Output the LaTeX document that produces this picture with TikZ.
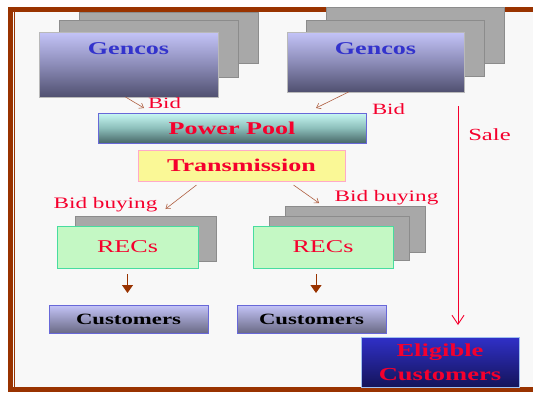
\documentclass[tikz,border=0pt]{standalone}
\usepackage{fontspec}
\setmainfont{Liberation Serif}
\usepackage{graphicx}
\usetikzlibrary{%
	calc,%
	arrows.meta,%
	positioning,%
}
\definecolor{cframe}{RGB}{153, 51, 0}
\definecolor{cback}{RGB}{248, 248, 248}
\definecolor{cred}{RGB}{245, 0, 45}
\definecolor{cblue}{RGB}{51, 51, 204}
\definecolor{cgray}{RGB}{168, 168, 168}
\definecolor{cgraydark}{RGB}{140, 140, 140}
\definecolor{clavender}{RGB}{196, 196, 248}
\definecolor{clavendermid}{RGB}{140, 140, 184}
\definecolor{cslate}{RGB}{80, 80, 112}
\definecolor{ccyanlight}{RGB}{200, 248, 244}
\definecolor{ccyanmid}{RGB}{140, 190, 186}
\definecolor{cteal}{RGB}{72, 104, 104}
\definecolor{cyellowlight}{RGB}{250, 248, 150}
\definecolor{cpink}{RGB}{255, 170, 200}
\definecolor{cgreenlight}{RGB}{196, 248, 196}
\definecolor{cgreenedge}{RGB}{72, 220, 160}
\definecolor{croyal}{RGB}{48, 48, 200}
\definecolor{cnavy}{RGB}{20, 20, 90}
\definecolor{cedgeblue}{RGB}{104, 104, 216}
\definecolor{cedgelight}{RGB}{160, 192, 240}
\definecolor{cbrown}{RGB}{175, 95, 65}
\newcommand{\wide}[1]{\scalebox{1.45}[1]{#1}}
\tikzset{
	nodes={align=center},%
	box/.style={%
			draw,%
			rectangle,%
			line width=1pt,%
			inner sep=0pt,%
			outer sep=0pt},%
	shadowbox/.style={%
			box,%
			draw=cgraydark,%
			fill=cgray},%
	gencosnode/.style={%
			box,%
			draw=cgray!80,%
			top color=clavender,%
			bottom color=cslate,%
			middle color=clavendermid},%
	poolnode/.style={%
			box,%
			draw=cedgeblue,%
			top color=ccyanlight,%
			bottom color=cteal,%
			middle color=ccyanmid},%
	transnode/.style={%
			box,%
			draw=cpink,%
			fill=cyellowlight},%
	recnode/.style={%
			box,%
			draw=cgreenedge,%
			fill=cgreenlight},%
	custnode/.style={%
			box,%
			draw=cedgeblue,%
			top color=clavender,%
			bottom color=cslate!85},%
	eligiblenode/.style={%
			box,%
			draw=cedgelight,%
			top color=croyal,%
			bottom color=cnavy},%
	redtext/.style={%
			text=cred,%
			inner sep=0pt,%
			anchor=base},%
	bidarrow/.style={%
			draw=cbrown,%
			line width=.6pt,%
			-{Straight Barb[length=4pt,width=6pt]}},%
	downarrow/.style={%
			draw=cframe,%
			fill=cframe,%
			line width=1pt,%
			-{Triangle[length=8pt,width=11pt]}},%
	salearrow/.style={%
			draw=cred,%
			line width=.9pt,%
			-{Straight Barb[length=9pt,width=12pt]}},%
}

\begin{document}
\begin{tikzpicture}[x=1pt, y=-1pt]%
	\useasboundingbox (0,0) rectangle (533,392);
	% slide frame
	\fill[cback] (13,12) rectangle (533,387);
	\draw[cframe, line width=4.5pt] (533,9.5) -- (10.5,9.5) -- (10.5,389.5) -- (533,389.5);
	\draw[cframe, line width=1.5pt] (14.5,12) -- (14.5,387);

	% generators
	\node[shadowbox, minimum width=179, minimum height=51] (gencosAback2) at (168.5,37.5) {};
	\node[shadowbox, minimum width=179, minimum height=57] (gencosAback1) at (148.5,48.5) {};
	\node[gencosnode, minimum width=179, minimum height=65,
		label={[text=cblue, anchor=base, inner sep=0pt, yshift=-22pt, font=\fontsize{18}{20}\selectfont\bfseries]north:\wide{Gencos}}] (gencosA) at (128.5,64.5) {};
	\node[shadowbox, minimum width=178, minimum height=56] (gencosBback2) at (415,35) {};
	\node[shadowbox, minimum width=178, minimum height=56] (gencosBback1) at (395,48) {};
	\node[gencosnode, minimum width=177, minimum height=60,
		label={[text=cblue, anchor=base, inner sep=0pt, yshift=-22pt, font=\fontsize{18}{20}\selectfont\bfseries]north:\wide{Gencos}}] (gencosB) at (375.5,62) {};

	% pool and transmission
	\node[poolnode, minimum width=268, minimum height=30, text=cred, font=\fontsize{18}{20}\selectfont\bfseries] (pool) at (232,128) {\wide{Power Pool}};
	\node[transnode, minimum width=207, minimum height=31, text=cred, font=\fontsize{18}{20}\selectfont\bfseries] (trans) at (241.5,165.5) {\wide{Transmission}};

	% retailers
	\node[shadowbox, minimum width=141, minimum height=45] (recsAback1) at (145.5,238.5) {};
	\node[recnode, minimum width=141, minimum height=42, text=cred, font=\fontsize{18}{20}\selectfont] (recsA) at (127.5,247) {\wide{RECs}};
	\node[shadowbox, minimum width=140, minimum height=46] (recsBback2) at (355,229) {};
	\node[shadowbox, minimum width=140, minimum height=44] (recsBback1) at (339,238) {};
	\node[recnode, minimum width=140, minimum height=42, text=cred, font=\fontsize{18}{20}\selectfont] (recsB) at (323,247) {\wide{RECs}};

	% customers
	\node[custnode, minimum width=159, minimum height=28, font=\fontsize{15.7}{18}\selectfont\bfseries] (custA) at (128.5,319) {\wide{Customers}};
	\node[custnode, minimum width=149, minimum height=28, font=\fontsize{15.7}{18}\selectfont\bfseries] (custB) at (311.5,319) {\wide{Customers}};
	\node[eligiblenode, minimum width=158, minimum height=50, text=cred, font=\fontsize{18.3}{24}\selectfont\bfseries] (eligible) at (440,362) {\wide{Eligible}\\\wide{Customers}};

	% labels
	\node[redtext, font=\fontsize{15.7}{18}\selectfont] (bidA) at (164.5,108) {\wide{Bid}};
	\node[redtext, font=\fontsize{15.7}{18}\selectfont] (bidB) at (388.5,114) {\wide{Bid}};
	\node[redtext, font=\fontsize{17}{20}\selectfont] (sale) at (489.5,140) {\wide{Sale}};
	\node[redtext, font=\fontsize{16}{18}\selectfont] (buyA) at (105.5,208) {\wide{Bid buying}};
	\node[redtext, font=\fontsize{16}{18}\selectfont] (buyB) at (386.5,201) {\wide{Bid buying}};

	% connectors
	\draw[bidarrow] ([xshift=-3pt]gencosA.south) -- ([xshift=-88pt, yshift=5pt]pool.north);
	\draw[bidarrow] ([xshift=-27pt]gencosB.south) -- ([xshift=84pt, yshift=5pt]pool.north);
	\draw[bidarrow] ([xshift=-45pt, yshift=-4pt]trans.south) -- ([xshift=38pt, yshift=17pt]recsA.north);
	\draw[bidarrow] ([xshift=52pt, yshift=-4pt]trans.south) -- ([xshift=-36pt, yshift=3pt]recsBback2.north);
	\draw[downarrow] ([yshift=-6pt]recsA.south) -- ([yshift=12pt]recsA.south |- custA.north);
	\draw[downarrow] ([xshift=-7pt, yshift=-6pt]recsB.south) -- ([xshift=-7pt, yshift=12pt]recsB.south |- custB.north);
	\coordinate (saletop) at (458,106);
	\draw[salearrow, shorten >=12pt] (saletop) -- (saletop |- eligible.north);
\end{tikzpicture}
\end{document}
